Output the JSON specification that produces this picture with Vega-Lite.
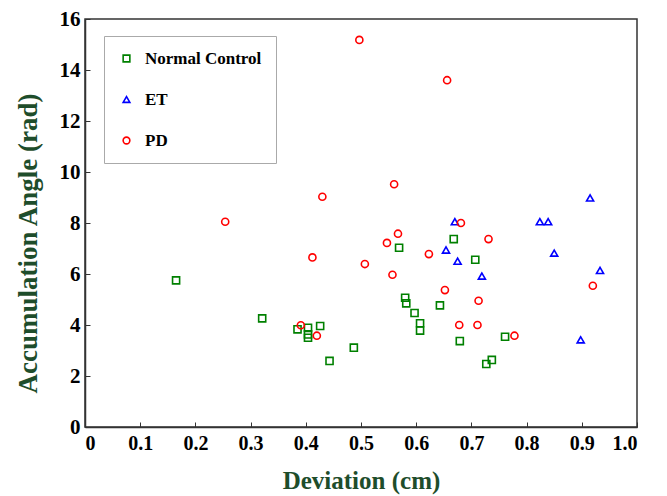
{
  "$schema": "https://vega.github.io/schema/vega-lite/v6.json",
  "width": 552,
  "height": 408,
  "autosize": "none",
  "padding": {"left": 85, "top": 19, "right": 30, "bottom": 69},
  "background": "white",
  "config": {
    "view": {"stroke": "#333333", "strokeWidth": 1.5},
    "font": "Liberation Serif"
  },
  "data": {
    "values": [
      {"group": "Normal Control", "x": 0.165, "y": 5.75},
      {"group": "Normal Control", "x": 0.321, "y": 4.26},
      {"group": "Normal Control", "x": 0.385, "y": 3.83},
      {"group": "Normal Control", "x": 0.404, "y": 3.89},
      {"group": "Normal Control", "x": 0.426, "y": 3.96},
      {"group": "Normal Control", "x": 0.404, "y": 3.63},
      {"group": "Normal Control", "x": 0.404, "y": 3.5},
      {"group": "Normal Control", "x": 0.487, "y": 3.11},
      {"group": "Normal Control", "x": 0.443, "y": 2.59},
      {"group": "Normal Control", "x": 0.569, "y": 7.03},
      {"group": "Normal Control", "x": 0.668, "y": 7.37},
      {"group": "Normal Control", "x": 0.707, "y": 6.56},
      {"group": "Normal Control", "x": 0.58, "y": 5.07},
      {"group": "Normal Control", "x": 0.582, "y": 4.85},
      {"group": "Normal Control", "x": 0.643, "y": 4.77},
      {"group": "Normal Control", "x": 0.597, "y": 4.47},
      {"group": "Normal Control", "x": 0.607, "y": 4.07},
      {"group": "Normal Control", "x": 0.607, "y": 3.78},
      {"group": "Normal Control", "x": 0.761, "y": 3.54},
      {"group": "Normal Control", "x": 0.679, "y": 3.37},
      {"group": "Normal Control", "x": 0.737, "y": 2.63},
      {"group": "Normal Control", "x": 0.727, "y": 2.47},
      {"group": "ET", "x": 0.915, "y": 8.98},
      {"group": "ET", "x": 0.67, "y": 8.05},
      {"group": "ET", "x": 0.824, "y": 8.05},
      {"group": "ET", "x": 0.839, "y": 8.05},
      {"group": "ET", "x": 0.654, "y": 6.94},
      {"group": "ET", "x": 0.85, "y": 6.82},
      {"group": "ET", "x": 0.675, "y": 6.5},
      {"group": "ET", "x": 0.933, "y": 6.14},
      {"group": "ET", "x": 0.719, "y": 5.92},
      {"group": "ET", "x": 0.898, "y": 3.42},
      {"group": "PD", "x": 0.497, "y": 15.18},
      {"group": "PD", "x": 0.656, "y": 13.6},
      {"group": "PD", "x": 0.56, "y": 9.52},
      {"group": "PD", "x": 0.43, "y": 9.03},
      {"group": "PD", "x": 0.254, "y": 8.05},
      {"group": "PD", "x": 0.412, "y": 6.65},
      {"group": "PD", "x": 0.507, "y": 6.39},
      {"group": "PD", "x": 0.391, "y": 3.99},
      {"group": "PD", "x": 0.42, "y": 3.58},
      {"group": "PD", "x": 0.681, "y": 8.0},
      {"group": "PD", "x": 0.567, "y": 7.58},
      {"group": "PD", "x": 0.547, "y": 7.22},
      {"group": "PD", "x": 0.731, "y": 7.37},
      {"group": "PD", "x": 0.623, "y": 6.78},
      {"group": "PD", "x": 0.557, "y": 5.97},
      {"group": "PD", "x": 0.92, "y": 5.54},
      {"group": "PD", "x": 0.652, "y": 5.37},
      {"group": "PD", "x": 0.713, "y": 4.95},
      {"group": "PD", "x": 0.678, "y": 4.0},
      {"group": "PD", "x": 0.711, "y": 4.0},
      {"group": "PD", "x": 0.778, "y": 3.58}
    ]
  },
  "mark": {"type": "point", "filled": false, "strokeWidth": 1.6, "size": 50, "opacity": 1},
  "encoding": {
    "x": {
      "field": "x", "type": "quantitative",
      "scale": {"domain": [0, 1], "nice": false},
      "axis": {
        "title": "Deviation (cm)",
        "values": [0, 0.1, 0.2, 0.3, 0.4, 0.5, 0.6, 0.7, 0.8, 0.9, 1.0],
        "labelExpr": "datum.value == 0 ? '0' : format(datum.value, '.1f')",
        "grid": false, "domainColor": "#333333", "domainWidth": 1.5,
        "tickColor": "#333333", "tickSize": -5, "labelPadding": 11,
        "labelFont": "Liberation Serif", "labelFontWeight": "bold", "labelFontSize": 20, "labelColor": "black",
        "titleFont": "Liberation Serif", "titleFontWeight": "bold", "titleFontSize": 25, "titleColor": "#1e4d2b", "titlePadding": 15
      }
    },
    "y": {
      "field": "y", "type": "quantitative",
      "scale": {"domain": [0, 16], "nice": false},
      "axis": {
        "title": "Accumulation Angle (rad)",
        "values": [0, 2, 4, 6, 8, 10, 12, 14, 16],
        "grid": false, "domainColor": "#333333", "domainWidth": 1.5,
        "tickColor": "#333333", "tickSize": -5, "labelPadding": 10,
        "labelFont": "Liberation Serif", "labelFontWeight": "bold", "labelFontSize": 21, "labelColor": "black",
        "titleFont": "Liberation Serif", "titleFontWeight": "bold", "titleFontSize": 27, "titleColor": "#1e4d2b",
        "titleX": -43, "titleY": 224
      }
    },
    "color": {
      "field": "group", "type": "nominal",
      "scale": {"domain": ["Normal Control", "ET", "PD"], "range": ["#008000", "#0000ff", "#ff0000"]},
      "legend": {
        "title": null, "orient": "none", "legendX": 19, "legendY": 17,
        "strokeColor": "#aaaaaa", "fillColor": "white", "padding": 14,
        "rowPadding": 23, "labelFont": "Liberation Serif", "labelFontWeight": "bold",
        "labelFontSize": 17, "labelColor": "black", "labelOffset": 10, "symbolSize": 45,
        "symbolStrokeWidth": 1.6, "symbolFillColor": "transparent"
      }
    },
    "shape": {
      "field": "group", "type": "nominal",
      "scale": {"domain": ["Normal Control", "ET", "PD"], "range": ["square", "triangle-up", "circle"]}
    }
  }
}
